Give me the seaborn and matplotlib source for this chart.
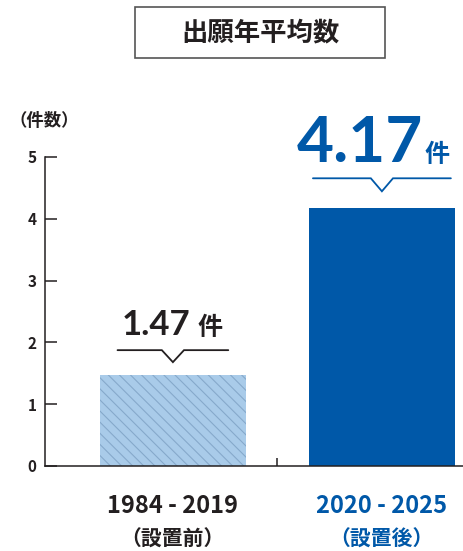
import matplotlib
matplotlib.use('Agg')
import matplotlib.pyplot as plt
from matplotlib import font_manager
from matplotlib.patches import Rectangle
import seaborn as sns

# data
periods = ['1984 - 2019', '2020 - 2025']
period_notes = ['（設置前）', '（設置後）']
averages = [1.47, 4.17]
value_labels = ['1.47', '4.17']
yticks = [0, 1, 2, 3, 4, 5]
title = '出願年平均数'
unit_label = '（件数）'
count_suffix = '件'

# colors
light_blue = '#a9cbe9'
hatch_blue = '#86a9cb'
dark_blue = '#0058a8'
ink = '#231f20'

installed = {f.name for f in font_manager.fontManager.ttflist}
narrow = 'Liberation Sans Narrow' if 'Liberation Sans Narrow' in installed else 'Noto Sans CJK JP'

sns.set_style('ticks')
plt.rcParams['font.family'] = ['Noto Sans CJK JP', 'DejaVu Sans']
plt.rcParams['hatch.linewidth'] = 0.8

W, H = 463, 551
fig = plt.figure(figsize=(W / 100, H / 100), dpi=100)
ax = fig.add_axes([45 / W, 85 / H, 418 / W, 309 / H])

sns.barplot(x=periods, y=averages, hue=periods, palette=[light_blue, dark_blue],
            width=0.7, saturation=1, errorbar=None, legend=False, ax=ax)

# hatched "before" bar
before = ax.patches[0]
before.set_hatch('\\\\\\')
before.set_edgecolor(hatch_blue)
before.set_linewidth(0)
ax.patches[1].set_linewidth(0)

ax.set_xlim(-0.612, 1.388)
ax.set_ylim(0, 5)
ax.set_yticks(yticks)
ax.tick_params(axis='y', direction='in', length=8.6, width=1.1, pad=6,
               labelsize=11, colors=ink)
for lbl in ax.get_yticklabels():
    lbl.set_fontweight('bold')

ax.set_xticks([0.5], labels=[''])
ax.tick_params(axis='x', which='major', direction='in', length=6, width=1.1, color=ink)
ax.set_xticks([0, 1], labels=periods, minor=True)
ax.tick_params(axis='x', which='minor', length=0, pad=20)
for lbl, col in zip(ax.get_xticklabels(minor=True), [ink, dark_blue]):
    lbl.set_color(col)
    lbl.set_family([narrow, 'Noto Sans CJK JP'])
    lbl.set_fontsize(20 if narrow != 'Noto Sans CJK JP' else 17)
    lbl.set_fontweight('bold')

ax.set_xlabel('')
ax.set_ylabel('')
sns.despine(ax=ax)
for side in ['left', 'bottom']:
    ax.spines[side].set_linewidth(1.1)
    ax.spines[side].set_color(ink)

for i, note in enumerate(period_notes):
    ax.annotate(note, xy=(i, 0), xycoords=('data', 'axes fraction'),
                xytext=(0, -53), textcoords='offset points',
                ha='center', va='center', fontsize=15, fontweight='bold',
                color=[ink, dark_blue][i])

# callouts above bars
px_per_unit = 309 / 5
line_gap = [25, 30]
notch_gap = [13, 17]
half_width = [0.265, 0.33]
notch_half = 0.053
text_gap = [40, 46]
num_size = [25, 46]
suffix_size = [18, 18]
num_shift = [17, 41]
suffix_shift = [25, 43]
colors = [ink, dark_blue]

for i, v in enumerate(averages):
    y_line = v + line_gap[i] / px_per_unit
    y_notch = v + notch_gap[i] / px_per_unit
    ax.plot([i - half_width[i], i - notch_half, i, i + notch_half, i + half_width[i]],
            [y_line, y_line, y_notch, y_line, y_line],
            color=colors[i], lw=1.3, clip_on=False, solid_joinstyle='miter')
    ax.annotate(value_labels[i], xy=(i, v), xytext=(num_shift[i] * 0.72, text_gap[i] * 0.72),
                textcoords='offset points', ha='right', va='baseline',
                fontsize=num_size[i], color=colors[i], fontweight='bold',
                family=['Lato', 'DejaVu Sans'], annotation_clip=False)
    ax.annotate(count_suffix, xy=(i, v), xytext=(suffix_shift[i] * 0.72, text_gap[i] * 0.72),
                textcoords='offset points', ha='left', va='baseline',
                fontsize=suffix_size[i], color=colors[i], fontweight='bold',
                annotation_clip=False)

# title box and unit label
fig.patches.append(Rectangle((135 / W, 1 - 58 / H), 250 / W, 51 / H,
                             transform=fig.transFigure, fill=False,
                             edgecolor='#555555', lw=1.2))
fig.text(260 / W, 1 - 33 / H, title, ha='center', va='center',
         fontsize=19, fontweight='bold', color=ink)
fig.text(44 / W, 1 - 121 / H, unit_label, ha='center', va='center',
         fontsize=12.5, fontweight='bold', color=ink)

fig.savefig('out.png', dpi=100)
